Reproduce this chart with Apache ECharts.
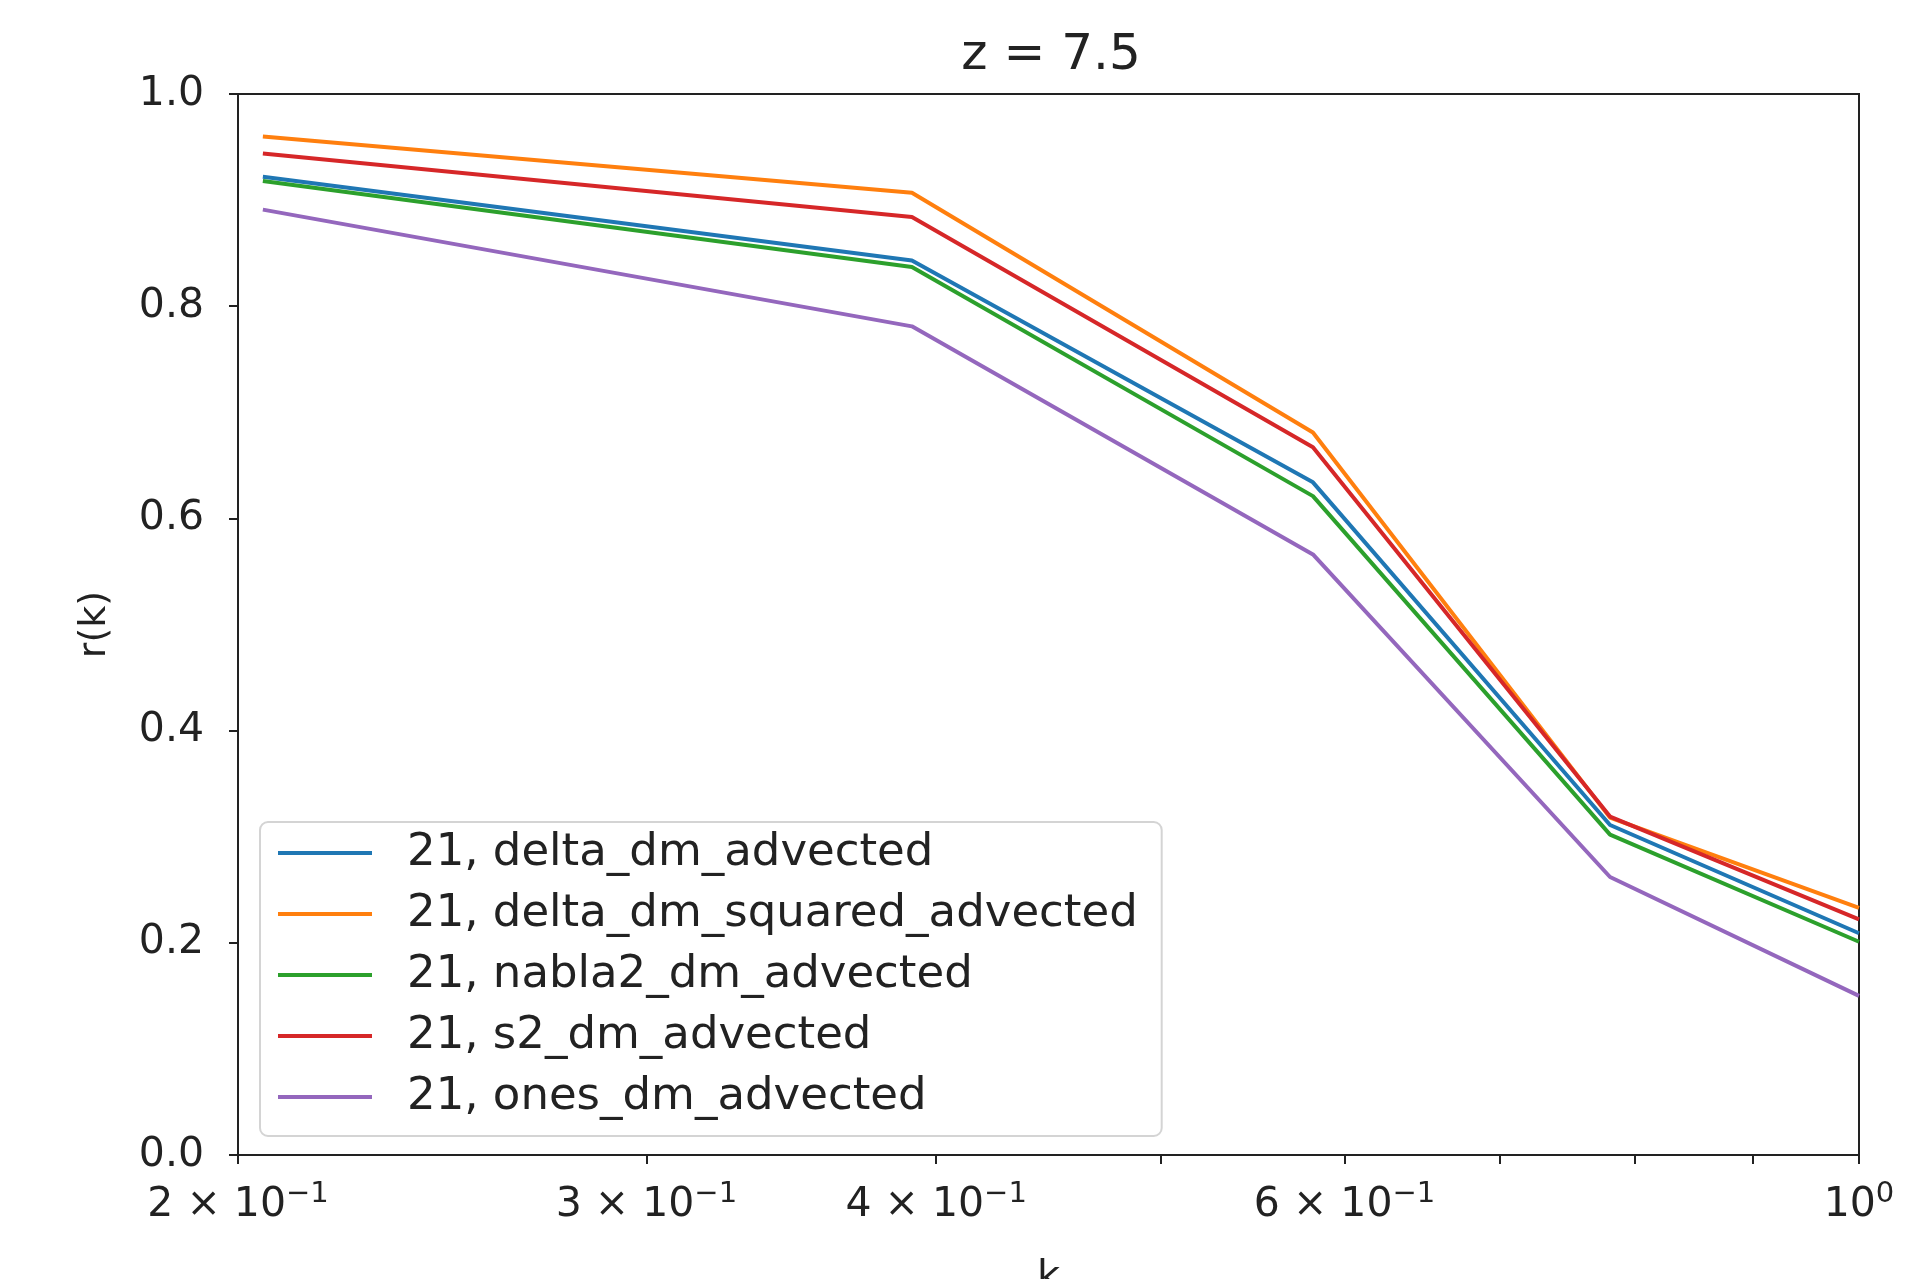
<!DOCTYPE html>
<html>
<head>
<meta charset="utf-8">
<script src="https://cdn.jsdelivr.net/npm/echarts@6/dist/echarts.min.js"></script>
<style>
html,body{margin:0;padding:0;background:#fff;}
#chart{width:1914px;height:1279px;}
</style>
</head>
<body>
<div id="chart"></div>
<script>
// ---- data ----
var kValues = [0.205, 0.3905, 0.5815, 0.781, 1.0];
var seriesNames = [
  '21, delta_dm_advected',
  '21, delta_dm_squared_advected',
  '21, nabla2_dm_advected',
  '21, s2_dm_advected',
  '21, ones_dm_advected'
];
var deltaDm   = [0.922, 0.843, 0.634, 0.311, 0.209];
var squaredDm = [0.960, 0.907, 0.681, 0.318, 0.233];
var nabla2Dm  = [0.918, 0.837, 0.621, 0.302, 0.201];
var s2Dm      = [0.944, 0.884, 0.667, 0.319, 0.222];
var onesDm    = [0.891, 0.781, 0.566, 0.262, 0.150];
var xTickValues = [0.2, 0.3, 0.4, 0.6, 1];
var xTickMantissa = ['2 × 10', '3 × 10', '4 × 10', '6 × 10', '10'];
var xTickExponent = ['−1', '−1', '−1', '−1', '0'];
var xMinorTicks = [0.2, 0.3, 0.4, 0.5, 0.6, 0.7, 0.8, 0.9, 1];
var colors = ['#1f77b4', '#ff7f0e', '#2ca02c', '#d62728', '#9467bd'];

var allValues = [deltaDm, squaredDm, nabla2Dm, s2Dm, onesDm];

function pairs(vals) {
  return kValues.map(function (k, i) { return [k, vals[i]]; });
}

var FONT = 'DejaVu Sans';
var chart = echarts.init(document.getElementById('chart'), null, {renderer: 'canvas'});

var option = {
  backgroundColor: '#fff',
  animation: false,
  color: colors,
  title: {
    text: 'z = 7.5',
    left: 1046,
    textAlign: 'center',
    top: 26,
    textStyle: {fontFamily: FONT, fontSize: 50, fontWeight: 'normal', color: '#222'}
  },
  grid: {
    left: 238, right: 55, top: 94, bottom: 124,
    outerBoundsMode: 'none',
    containLabel: false,
    show: true, borderColor: '#222', borderWidth: 2, backgroundColor: 'transparent'
  },
  legend: {
    orient: 'vertical',
    left: 260, top: 822,
    padding: [6, 24, 14, 18],
    itemGap: 11,
    itemWidth: 94,
    itemHeight: 4,
    icon: 'rect',
    borderColor: '#d4d4d4',
    borderWidth: 2,
    borderRadius: 8,
    backgroundColor: 'rgba(255,255,255,0.8)',
    textStyle: {fontFamily: FONT, fontSize: 45, color: '#222', lineHeight: 50, padding: [0, 0, 0, 30]},
    data: seriesNames
  },
  xAxis: {
    type: 'log',
    logBase: 10,
    min: 0.2,
    max: 1,
    name: 'k',
    nameLocation: 'middle',
    nameGap: 104,
    nameTextStyle: {fontFamily: FONT, fontSize: 40, color: '#222'},
    axisLine: {show: true, lineStyle: {color: '#222', width: 2}},
    axisTick: {show: true, length: 9, lineStyle: {color: '#222', width: 2}, customValues: xMinorTicks},
    splitLine: {show: false},
    minorTick: {show: false},
    axisLabel: {
      customValues: xTickValues,
      margin: 25,
      color: '#222',
      formatter: function (v) {
        var idx = -1;
        for (var i = 0; i < xTickValues.length; i++) {
          if (Math.abs(xTickValues[i] - v) < 1e-6) idx = i;
        }
        if (idx < 0) return '';
        return '{b|' + xTickMantissa[idx] + '}{e|' + xTickExponent[idx] + '}';
      },
      rich: {
        b: {fontFamily: FONT, fontSize: 41, color: '#222', lineHeight: 50},
        e: {fontFamily: FONT, fontSize: 29, color: '#222', padding: [0, 0, 22, 0], lineHeight: 50}
      }
    }
  },
  yAxis: {
    type: 'value',
    min: 0,
    max: 1,
    interval: 0.2,
    name: 'r(k)',
    nameLocation: 'middle',
    nameGap: 124,
    nameRotate: 90,
    nameTextStyle: {fontFamily: FONT, fontSize: 38, color: '#222'},
    axisLine: {show: true, lineStyle: {color: '#222', width: 2}},
    axisTick: {show: true, length: 9, lineStyle: {color: '#222', width: 2}},
    splitLine: {show: false},
    axisLabel: {
      margin: 34,
      fontFamily: FONT, fontSize: 41, color: '#222',
      formatter: function (v) { return v.toFixed(1); }
    }
  },
  series: seriesNames.map(function (name, i) {
    return {
      name: name,
      type: 'line',
      symbol: 'none',
      data: pairs(allValues[i]),
      lineStyle: {width: 4, color: colors[i]},
      itemStyle: {color: colors[i]},
      clip: true
    };
  })
};
chart.setOption(option);
</script>
</body>
</html>
